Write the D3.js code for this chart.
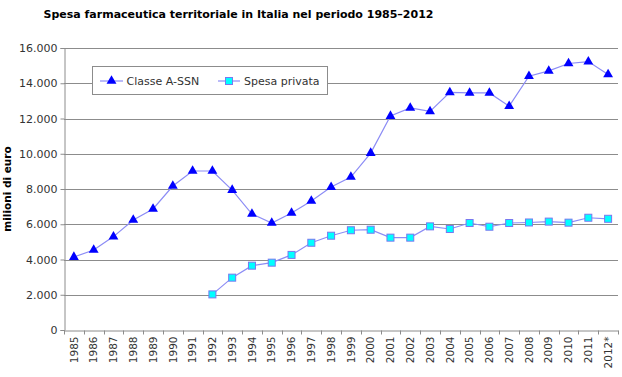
<!DOCTYPE html>
<html><head><meta charset="utf-8">
<script src="https://cdn.jsdelivr.net/npm/d3@7"></script>
<style>body{margin:0;background:#fff}svg{display:block}text{font-family:"DejaVu Sans",Verdana,sans-serif}</style>
</head><body><svg id="c" width="622" height="377"></svg>
<script>
const years = ["1985","1986","1987","1988","1989","1990","1991","1992","1993","1994","1995","1996","1997","1998","1999","2000","2001","2002","2003","2004","2005","2006","2007","2008","2009","2010","2011","2012*"];
const classeA = [4140,4540,5300,6240,6870,8170,9020,9020,7940,6580,6070,6640,7320,8110,8680,10040,12140,12600,12400,13480,13450,13450,12700,14400,14700,15120,15230,14500];
const spesaPrivata = [null,null,null,null,null,null,null,2020,2970,3650,3820,4260,4950,5350,5660,5690,5240,5240,5880,5730,6070,5860,6070,6100,6150,6090,6370,6310];
const yTicks = [0,2000,4000,6000,8000,10000,12000,14000,16000];
const seriesNames = ["Classe A-SSN","Spesa privata"];

const svg = d3.select("#c");
const m = {l:64, r:618, t:48, b:330};
const x = d3.scaleBand().domain(years).range([m.l, m.r]);
const y = d3.scaleLinear().domain([0,16000]).range([m.b, m.t]);
const fmt = v => d3.format(",")(v).replace(/,/g,".");

// title
svg.append("text").attr("x",238.5).attr("y",17.5).attr("text-anchor","middle")
  .attr("font-size",11).attr("font-weight","bold").attr("fill","#000")
  .text("Spesa farmaceutica territoriale in Italia nel periodo 1985–2012");

// gridlines
svg.append("g").selectAll("line").data(yTicks.filter(d=>d>0)).join("line")
  .attr("x1",m.l).attr("x2",m.r).attr("y1",d=>Math.round(y(d))+0.5).attr("y2",d=>Math.round(y(d))+0.5)
  .attr("stroke","#8c8c8c").attr("stroke-width",1);

// y axis
const ya = svg.append("g").attr("transform",`translate(${m.l+0.5},0)`)
  .call(d3.axisLeft(y).tickValues(yTicks).tickFormat(fmt).tickSize(4).tickPadding(3));
ya.select(".domain").attr("stroke","#8c8c8c");
ya.selectAll(".tick line").attr("stroke","#8c8c8c");
ya.selectAll("text").attr("font-size",11).attr("fill","#333").attr("font-family","DejaVu Sans");

// x axis
const xa = svg.append("g").attr("transform",`translate(0,${m.b+0.5})`)
  .call(d3.axisBottom(x).tickSize(0).tickSizeOuter(0));
xa.select(".domain").attr("stroke","#8c8c8c");
xa.selectAll(".tick line").remove();
xa.selectAll(".tick text").attr("font-size",10.5).attr("fill","#333").attr("font-family","DejaVu Sans")
  .attr("transform","rotate(-90)").attr("text-anchor","end").attr("dx","-6").attr("dy","0.35em").attr("x",0).attr("y",0);
// tick marks at band boundaries
const bounds = years.map(d=>x(d)).concat([m.r]);
xa.append("g").selectAll("line").data(bounds).join("line")
  .attr("x1",d=>Math.round(d)+0.5).attr("x2",d=>Math.round(d)+0.5).attr("y1",0).attr("y2",4)
  .attr("stroke","#8c8c8c");

// y label
svg.append("text").attr("transform","translate(11,189) rotate(-90)").attr("text-anchor","middle")
  .attr("font-size",10.5).attr("font-weight","bold").attr("fill","#000").text("milioni di euro");

const cx = d => x(d) + x.bandwidth()/2;
const lineCol = "#8c8cf5";
const tri = d3.symbol().type(d3.symbolTriangle).size(42);

// Classe A line
const ldA = years.map((d,i)=>({k:d,v:classeA[i]}));
svg.append("path").datum(ldA).attr("fill","none").attr("stroke",lineCol).attr("stroke-width",1.2)
  .attr("d",d3.line().x(d=>cx(d.k)).y(d=>y(d.v)));
svg.append("g").selectAll("path").data(ldA).join("path")
  .attr("transform",d=>`translate(${cx(d.k)},${y(d.v)})`).attr("d",tri).attr("fill","#0000ff");

// Spesa privata
const ldB = years.map((d,i)=>({k:d,v:spesaPrivata[i]})).filter(d=>d.v!=null);
svg.append("path").datum(ldB).attr("fill","none").attr("stroke",lineCol).attr("stroke-width",1.2)
  .attr("d",d3.line().x(d=>cx(d.k)).y(d=>y(d.v)));
svg.append("g").selectAll("rect").data(ldB).join("rect")
  .attr("x",d=>cx(d.k)-3.5).attr("y",d=>y(d.v)-3.5).attr("width",7).attr("height",7)
  .attr("fill","#00ffff").attr("stroke","#7878f0").attr("stroke-width",1);

// legend
const lg = svg.append("g");
lg.append("rect").attr("x",92.5).attr("y",66.5).attr("width",235).attr("height",28)
  .attr("fill","#fff").attr("stroke","#8c8c8c");
const ly = 81;
lg.append("line").attr("x1",100).attr("x2",123).attr("y1",ly).attr("y2",ly).attr("stroke",lineCol).attr("stroke-width",1.2);
lg.append("path").attr("transform",`translate(111.5,${ly})`).attr("d",tri).attr("fill","#0000ff");
lg.append("text").attr("x",126.5).attr("y",ly).attr("dy","0.35em").attr("font-size",11).attr("fill","#333").text(seriesNames[0]);
lg.append("line").attr("x1",218).attr("x2",240).attr("y1",ly).attr("y2",ly).attr("stroke",lineCol).attr("stroke-width",1.2);
lg.append("rect").attr("x",225.5).attr("y",ly-3.5).attr("width",7).attr("height",7).attr("fill","#00ffff").attr("stroke","#7878f0");
lg.append("text").attr("x",244).attr("y",ly).attr("dy","0.35em").attr("font-size",11).attr("fill","#333").text(seriesNames[1]);
</script></body></html>
